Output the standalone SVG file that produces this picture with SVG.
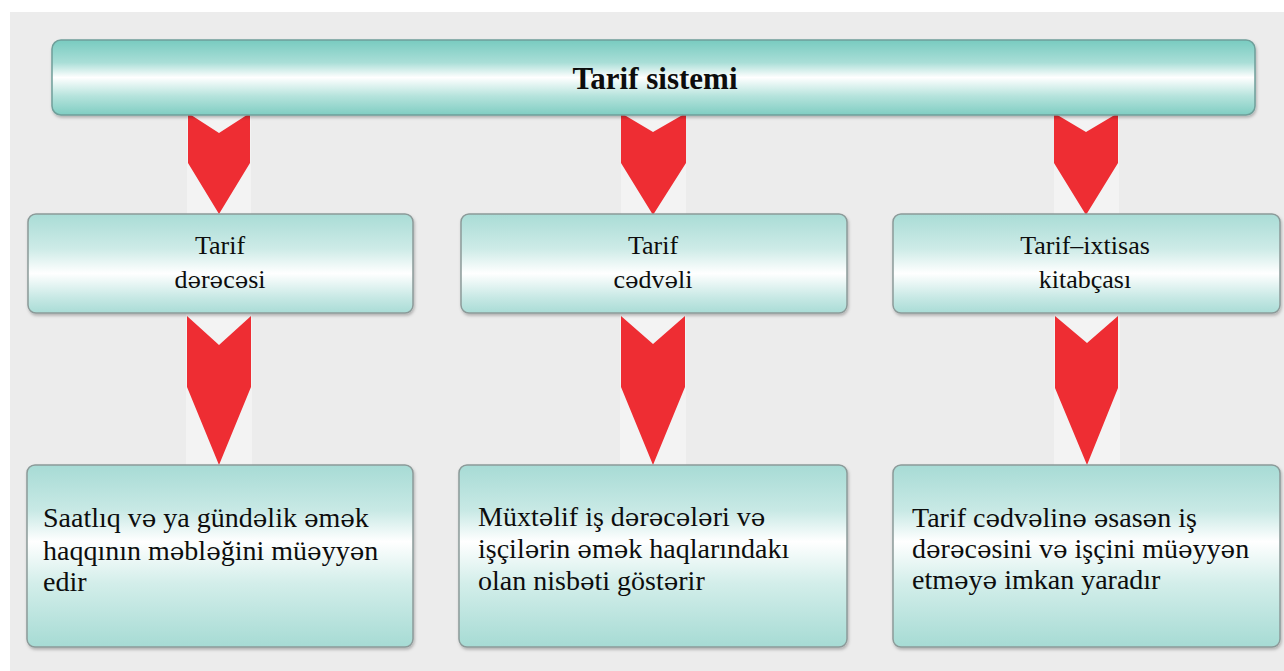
<svg xmlns="http://www.w3.org/2000/svg" width="1284" height="671" viewBox="0 0 1284 671">
  <defs>
    <linearGradient id="gTop" x1="0" y1="0" x2="0" y2="1">
      <stop offset="0" stop-color="#78cbc0"/>
      <stop offset="0.3" stop-color="#a9ded7"/>
      <stop offset="0.5" stop-color="#ffffff"/>
      <stop offset="0.75" stop-color="#b5e3dc"/>
      <stop offset="1" stop-color="#7fcdc2"/>
    </linearGradient>
    <linearGradient id="gMid" x1="0" y1="0" x2="0" y2="1">
      <stop offset="0" stop-color="#a9dcd6"/>
      <stop offset="0.35" stop-color="#cdebe7"/>
      <stop offset="0.6" stop-color="#ffffff"/>
      <stop offset="0.85" stop-color="#c6e8e4"/>
      <stop offset="1" stop-color="#a9dcd6"/>
    </linearGradient>
    <linearGradient id="gBot" x1="0" y1="0" x2="0" y2="1">
      <stop offset="0" stop-color="#a7dbd5"/>
      <stop offset="0.25" stop-color="#c8e9e5"/>
      <stop offset="0.42" stop-color="#ffffff"/>
      <stop offset="0.65" stop-color="#d3eeea"/>
      <stop offset="1" stop-color="#a6dbd4"/>
    </linearGradient>
    <filter id="sh" x="-5%" y="-10%" width="110%" height="125%">
      <feDropShadow dx="1" dy="2" stdDeviation="1.5" flood-color="#000" flood-opacity="0.25"/>
    </filter>
  </defs>
  <style>
    .bar { fill: url(#gTop); stroke: #6f9f9a; stroke-width: 1.5; }
    .mid { fill: url(#gMid); stroke: #8c9a99; stroke-width: 1.5; }
    .bot { fill: url(#gBot); stroke: #8c9a99; stroke-width: 1.5; }
    .arrow { fill: #ee2d33; }
    .pad { fill: #f3f3f3; }
    text { font-family: "Liberation Serif", serif; fill: #0d0d0d; }
    .e { font-family: "DejaVu Serif", serif; font-size: 88%; }
    .title { font-size: 31px; font-weight: bold; }
    .lbl { font-size: 26px; }
    .desc { font-size: 28px; }
  </style>

  <rect x="0" y="0" width="1284" height="671" fill="#ffffff"/>
  <rect x="10" y="12" width="1274" height="659" fill="#ececec"/>

  <g id="connectors">
    <rect class="pad" x="187" y="115" width="64" height="99"/>
    <rect class="pad" x="621" y="115" width="65" height="99"/>
    <rect class="pad" x="1054" y="115" width="65" height="99"/>
    <rect class="pad" x="186" y="314" width="66" height="151"/>
    <rect class="pad" x="620" y="314" width="66" height="151"/>
    <rect class="pad" x="1054" y="314" width="66" height="151"/>
    <polygon class="arrow" points="188,113 219,133 250,113 250,163 219,214 188,163"/>
    <polygon class="arrow" points="621,113 653,132 686,113 686,163 653,215 621,163"/>
    <polygon class="arrow" points="1054,113 1086,132 1118,113 1118,163 1086,215 1054,163"/>
    <polygon class="arrow" points="187,316 219,345 251,316 251,387 219,465 187,387"/>
    <polygon class="arrow" points="621,316 653,344 685,316 685,387 653,465 621,387"/>
    <polygon class="arrow" points="1055,316 1087,343 1118,316 1118,388 1087,465 1055,388"/>
  </g>

  <g id="tarif-sistemi">
    <rect class="bar" x="52" y="40" width="1203" height="75" rx="9" filter="url(#sh)"/>
    <text class="title" x="655" y="89" text-anchor="middle">Tarif sistemi</text>
  </g>

  <g id="tarif-derecesi">
    <rect class="mid" x="28" y="214" width="385" height="99" rx="8" filter="url(#sh)"/>
    <text class="lbl" x="220" y="254" text-anchor="middle">Tarif</text>
    <text class="lbl" x="220" y="288" text-anchor="middle">d<tspan class="e">ə</tspan>r<tspan class="e">ə</tspan>c<tspan class="e">ə</tspan>si</text>
  </g>

  <g id="tarif-cedveli">
    <rect class="mid" x="461" y="214" width="386" height="99" rx="8" filter="url(#sh)"/>
    <text class="lbl" x="653" y="254" text-anchor="middle">Tarif</text>
    <text class="lbl" x="653" y="288" text-anchor="middle">c<tspan class="e">ə</tspan>dv<tspan class="e">ə</tspan>li</text>
  </g>

  <g id="tarif-ixtisas">
    <rect class="mid" x="893" y="214" width="387" height="99" rx="8" filter="url(#sh)"/>
    <text class="lbl" x="1085" y="254" text-anchor="middle">Tarif–ixtisas</text>
    <text class="lbl" x="1085" y="288" text-anchor="middle">kitabçası</text>
  </g>

  <g id="desc-1">
    <rect class="bot" x="27" y="465" width="386" height="182" rx="8" filter="url(#sh)"/>
    <text class="desc" x="43" y="527">Saatlıq v<tspan class="e">ə</tspan> ya günd<tspan class="e">ə</tspan>lik <tspan class="e">ə</tspan>m<tspan class="e">ə</tspan>k</text>
    <text class="desc" x="43" y="560">haqqının m<tspan class="e">ə</tspan>bl<tspan class="e">ə</tspan>ğini mü<tspan class="e">ə</tspan>yy<tspan class="e">ə</tspan>n</text>
    <text class="desc" x="43" y="591">edir</text>
  </g>

  <g id="desc-2">
    <rect class="bot" x="459" y="465" width="388" height="182" rx="8" filter="url(#sh)"/>
    <text class="desc" x="478" y="526">Müxt<tspan class="e">ə</tspan>lif iş d<tspan class="e">ə</tspan>r<tspan class="e">ə</tspan>c<tspan class="e">ə</tspan>l<tspan class="e">ə</tspan>ri v<tspan class="e">ə</tspan></text>
    <text class="desc" x="478" y="558">işçil<tspan class="e">ə</tspan>rin <tspan class="e">ə</tspan>m<tspan class="e">ə</tspan>k haqlarındakı</text>
    <text class="desc" x="478" y="590">olan nisb<tspan class="e">ə</tspan>ti göst<tspan class="e">ə</tspan>rir</text>
  </g>

  <g id="desc-3">
    <rect class="bot" x="893" y="465" width="387" height="182" rx="8" filter="url(#sh)"/>
    <text class="desc" x="912" y="527">Tarif c<tspan class="e">ə</tspan>dv<tspan class="e">ə</tspan>lin<tspan class="e">ə</tspan> <tspan class="e">ə</tspan>sas<tspan class="e">ə</tspan>n iş</text>
    <text class="desc" x="912" y="558">d<tspan class="e">ə</tspan>r<tspan class="e">ə</tspan>c<tspan class="e">ə</tspan>sini v<tspan class="e">ə</tspan> işçini mü<tspan class="e">ə</tspan>yy<tspan class="e">ə</tspan>n</text>
    <text class="desc" x="912" y="589">etm<tspan class="e">ə</tspan>y<tspan class="e">ə</tspan> imkan yaradır</text>
  </g>
</svg>
